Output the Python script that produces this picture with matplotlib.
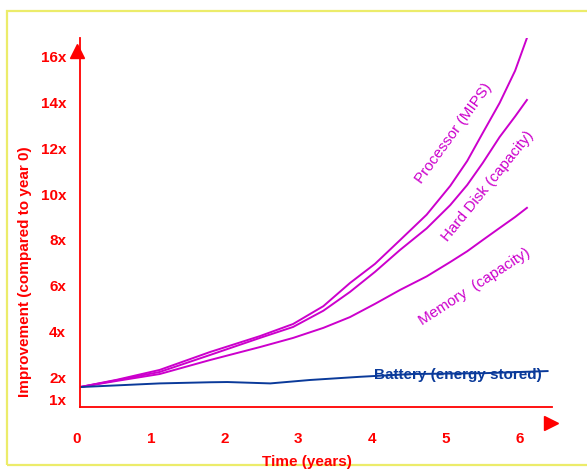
"""Technology improvement over time: processor, disk, memory vs battery."""

import matplotlib
matplotlib.use("Agg")
import matplotlib.pyplot as plt
from matplotlib.patches import Rectangle
from matplotlib.transforms import ScaledTranslation

plt.rcParams["font.family"] = ["Liberation Sans", "DejaVu Sans"]

# data
years = [0, 0.5, 1.08, 1.76, 2.44, 2.89, 3.3, 3.66, 4.0, 4.34, 4.7, 5.02, 5.25, 5.46, 5.69, 5.9, 6.06]
processor = [1.56, 1.88, 2.31, 3.09, 3.79, 4.32, 5.1, 6.11, 6.95, 7.99, 9.1, 10.36, 11.45, 12.67, 13.99, 15.4, 16.83]
hard_disk = [1.56, 1.86, 2.22, 2.96, 3.71, 4.19, 4.9, 5.72, 6.6, 7.56, 8.5, 9.52, 10.4, 11.36, 12.5, 13.4, 14.12]
memory = [1.56, 1.83, 2.13, 2.74, 3.31, 3.71, 4.15, 4.62, 5.2, 5.81, 6.4, 7.03, 7.5, 7.99, 8.52, 9.0, 9.4]

battery_years = [0, 1.08, 1.76, 2.0, 2.58, 3.12, 3.8, 4.5, 5.5, 6.34]
battery = [1.56, 1.72, 1.77, 1.78, 1.72, 1.87, 2.01, 2.13, 2.17, 2.26]

x_ticks = [0, 1, 2, 3, 4, 5, 6]
y_ticks = [1, 2, 4, 6, 8, 10, 12, 14, 16]
y_tick_labels = ["1x", "2x", "4x", "6x", "8x", "10x", "12x", "14x", "16x"]

RED = "#ff0000"
MAGENTA = "#cc00cc"
BLUE = "#0a3a9a"

W, H = 587, 470
fig = plt.figure(figsize=(W / 100, H / 100), dpi=100)
fig.patch.set_facecolor("white")


def px(x, y):
    """Pixel position (from top left) to figure fraction."""
    return x / W, 1 - y / H


# yellow slide frame
fig.add_artist(Rectangle(px(7, 465), 1.0, (465 - 11) / H,
                         transform=fig.transFigure, fill=False,
                         edgecolor="#ecec6a", linewidth=1.6, clip_on=False))

ax = fig.add_axes([80 / W, 1 - 407 / H, 472 / W, 369 / H])
ax.set_xlim(0, 6.4)
ax.set_ylim(0.688, 16.83)

for name in ["top", "right"]:
    ax.spines[name].set_visible(False)
for name in ["left", "bottom"]:
    ax.spines[name].set_color(RED)
    ax.spines[name].set_linewidth(1.3)

ax.plot(years, processor, color=MAGENTA, lw=1.4)
ax.plot(years, hard_disk, color=MAGENTA, lw=1.4)
ax.plot(years, memory, color=MAGENTA, lw=1.4)
ax.plot(battery_years, battery, color=BLUE, lw=1.4)

ax.set_xticks(x_ticks)
ax.set_xticklabels([str(t) for t in x_ticks])
ax.set_yticks(y_ticks)
ax.set_yticklabels(y_tick_labels)
ax.tick_params(axis="both", length=0, colors=RED, labelsize=11)
ax.tick_params(axis="x", pad=18)
ax.tick_params(axis="y", pad=10)
shift = ScaledTranslation(-0.03, 0, fig.dpi_scale_trans)
for lab in ax.get_xticklabels():
    lab.set_fontweight("bold")
    lab.set_transform(lab.get_transform() + shift)
for lab in ax.get_yticklabels():
    lab.set_fontweight("bold")

# curve labels
fig.text(*px(454, 133), "Processor (MIPS)", color=MAGENTA,
         fontsize=11, rotation=54, ha="center", va="center",
         rotation_mode="anchor")
fig.text(*px(488, 186), "Hard Disk (capacity)", color=MAGENTA,
         fontsize=11, rotation=51, ha="center", va="center",
         rotation_mode="anchor")
fig.text(*px(475, 287), "Memory  (capacity)", color=MAGENTA,
         fontsize=11, rotation=33, ha="center", va="center",
         rotation_mode="anchor")
fig.text(*px(458, 375), "Battery (energy stored)", color=BLUE,
         fontsize=11, fontweight="bold", ha="center", va="center")

# axis titles
fig.text(*px(25, 272), "Improvement (compared to year 0)", color=RED,
         fontsize=11, fontweight="bold", rotation=90, ha="center", va="center")
fig.text(*px(307, 462), "Time (years)", color=RED,
         fontsize=11, fontweight="bold", ha="center", va="center")

# arrow heads
fig.add_artist(plt.Line2D([77 / W], [1 - 50.5 / H], marker="^", markersize=10,
                          color=RED, transform=fig.transFigure))
fig.add_artist(plt.Line2D([550.5 / W], [1 - 422.5 / H], marker=">", markersize=9.5,
                          color=RED, transform=fig.transFigure))

fig.savefig("out.png", dpi=100)
